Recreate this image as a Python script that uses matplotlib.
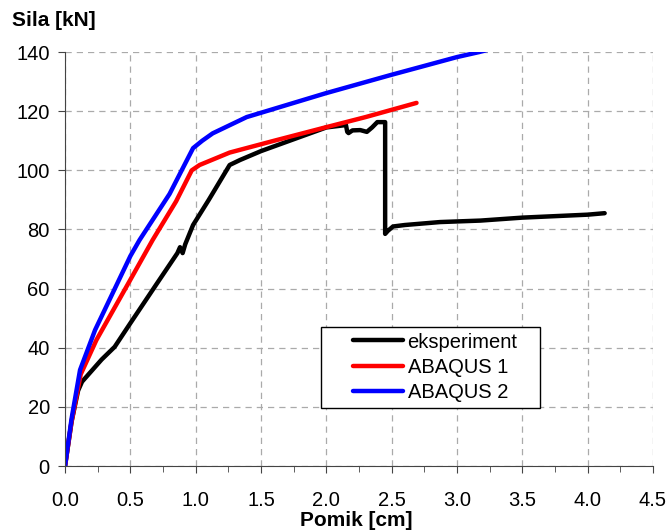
import numpy as np
import matplotlib.pyplot as plt
from matplotlib.patches import Rectangle

plt.rcParams['font.family'] = ['Liberation Sans', 'DejaVu Sans']

# eksperiment
exp_x = [0.0, 0.05, 0.1, 0.13, 0.2, 0.28, 0.38, 0.5, 0.7, 0.86, 0.88, 0.9, 0.92, 0.98, 1.1, 1.26, 1.34, 1.5,
         1.75, 2.0, 2.15, 2.16, 2.17, 2.2, 2.26, 2.31, 2.35, 2.39, 2.45, 2.45, 2.47, 2.51, 2.6,
         2.87, 3.18, 3.5, 4.0, 4.13]
exp_y = [0.0, 15.0, 25.5, 28.5, 32.0, 36.0, 40.3, 48.3, 61.5, 72.0, 74.0, 72.0, 75.0, 81.5, 90.0, 101.8, 103.5, 106.5,
         110.5, 114.5, 115.3, 113.0, 112.6, 113.5, 113.6, 113.0, 114.5, 116.3, 116.3, 78.5, 79.5, 81.0, 81.5,
         82.5, 83.0, 84.0, 85.0, 85.5]

# ABAQUS 1
ab1_x = [0.0, 0.05, 0.12, 0.24, 0.5, 0.67, 0.85, 0.97, 1.03, 1.26, 1.6, 2.0, 2.3, 2.69]
ab1_y = [0.0, 15.0, 31.0, 42.6, 63.0, 76.4, 89.5, 100.0, 101.8, 106.0, 110.0, 114.6, 118.0, 122.8]

# ABAQUS 2
ab2_x = [0.0, 0.05, 0.115, 0.23, 0.5, 0.57, 0.8, 0.98, 1.05, 1.13, 1.39, 1.645, 1.99, 2.49, 3.0, 3.17, 3.3]
ab2_y = [0.0, 16.0, 32.5, 46.0, 71.0, 76.4, 92.0, 107.5, 110.0, 112.5, 118.0, 121.4, 126.0, 132.2, 138.3, 140.0, 141.5]

fig = plt.figure(figsize=(6.67, 5.31), dpi=100)
ax = fig.add_axes([0.0975, 0.1224, 0.8815, 0.7796])

lw = 3.2
ax.plot(exp_x, exp_y, color='black', lw=lw, label='eksperiment', solid_capstyle='round', solid_joinstyle='round')
ax.plot(ab1_x, ab1_y, color='#ff0000', lw=lw, label='ABAQUS 1', solid_capstyle='round', solid_joinstyle='round')
ax.plot(ab2_x, ab2_y, color='#0000ff', lw=lw, label='ABAQUS 2', solid_capstyle='round', solid_joinstyle='round')

ax.set_xlim(0, 4.5)
ax.set_ylim(0, 140)
ax.set_xticks(np.arange(0, 4.51, 0.5))
ax.set_xticks(np.arange(0, 4.51, 0.25), minor=True)
ax.set_xticklabels(['%.1f' % v for v in np.arange(0, 4.51, 0.5)])
ax.set_yticks(np.arange(0, 141, 20))
ax.grid(True, which='major', color='#aaaaaa', linestyle=(0, (5, 4)), linewidth=0.9)
ax.spines['top'].set_visible(False)
ax.spines['right'].set_visible(False)
for s in ['left', 'bottom']:
    ax.spines[s].set_color('#444444')
ax.tick_params(axis='both', which='both', direction='out', color='#444444', labelsize=14.5)
ax.tick_params(axis='both', which='major', length=5)
ax.tick_params(axis='x', which='minor', length=4)
ax.tick_params(axis='x', pad=13)
ax.tick_params(axis='y', pad=6)

# legend box
ax.add_patch(Rectangle((0.435, 0.14), 0.372, 0.196, transform=ax.transAxes, facecolor='white',
                       edgecolor='black', linewidth=1.0, zorder=4))
leg = ax.legend(loc='center left', bbox_to_anchor=(0.49, 0.239), fontsize=14.5, frameon=False,
                borderaxespad=0, borderpad=0, handlelength=2.5, handletextpad=0.2, labelspacing=0.3)
leg.set_zorder(5)

fig.text(0.018, 0.962, 'Sila [kN]', fontsize=15, fontweight='bold', ha='left', va='center')
fig.text(0.534, 0.019, 'Pomik [cm]', fontsize=15, fontweight='bold', ha='center', va='center')

fig.savefig('out.png', dpi=100)
